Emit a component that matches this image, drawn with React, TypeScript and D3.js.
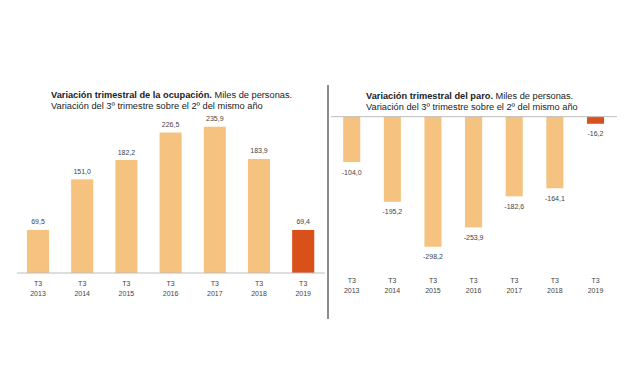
import * as d3 from 'd3';
import React, { useRef, useEffect } from 'react';

const years = ['2013', '2014', '2015', '2016', '2017', '2018', '2019'];
const ocupacion = [69.5, 151.0, 182.2, 226.5, 235.9, 183.9, 69.4];
const paro = [-104.0, -195.2, -298.2, -253.9, -182.6, -164.1, -16.2];

const LIGHT = '#f5c27f';
const DARK = '#d9501a';
const font = 'Liberation Sans, Arial, sans-serif';

// spanish decimal comma, plain hyphen for negatives
const fmt = (v: number) => d3.format('.1f')(v).replace('.', ',').replace('\u2212', '-');

function Chart() {
  const ref = useRef<SVGSVGElement>(null);

  useEffect(() => {
    const svg = d3.select(ref.current);
    svg.selectAll('*').remove();

    svg.append('rect').attr('width', 640).attr('height', 384).attr('fill', '#fff');

    // ---- left: ocupación
    const xL = d3.scaleBand<string>()
      .domain(years)
      .range([15.9, 325.3])
      .paddingInner(0.5)
      .paddingOuter(0.25);
    const yL = d3.scaleLinear().domain([0, 235.9]).range([273, 126.7]);

    const gL = svg.append('g');
    gL.selectAll('rect.bar')
      .data(ocupacion)
      .enter()
      .append('rect')
      .attr('class', 'bar')
      .attr('x', (d, i) => xL(years[i])!)
      .attr('y', d => yL(d))
      .attr('width', xL.bandwidth())
      .attr('height', d => yL(0) - yL(d))
      .attr('fill', (d, i) => (i === years.length - 1 ? DARK : LIGHT));

    gL.append('line')
      .attr('x1', 17).attr('x2', 325)
      .attr('y1', yL(0)).attr('y2', yL(0))
      .attr('stroke', '#bdbdbd').attr('stroke-width', 1);

    gL.selectAll('text.val')
      .data(ocupacion)
      .enter()
      .append('text')
      .attr('class', 'val')
      .attr('x', (d, i) => xL(years[i])! + xL.bandwidth() / 2)
      .attr('y', d => yL(d) - 5.5)
      .attr('text-anchor', 'middle')
      .style('font-family', font)
      .style('font-size', '7px')
      .attr('fill', '#444')
      .text(d => fmt(d));

    const tickL = gL.selectAll('g.tick').data(years).enter().append('g')
      .attr('transform', d => `translate(${xL(d)! + xL.bandwidth() / 2},0)`);
    tickL.append('text').attr('y', 285.5).attr('text-anchor', 'middle')
      .style('font-family', font).style('font-size', '7px').attr('fill', '#444').text('T3');
    tickL.append('text').attr('y', 295.5).attr('text-anchor', 'middle')
      .style('font-family', font).style('font-size', '7px').attr('fill', '#444').text(d => d);

    const tL = gL.append('text').style('font-family', font).style('font-size', '9.25px').attr('fill', '#222');
    tL.append('tspan').attr('x', 51).attr('y', 98).style('font-weight', 'bold').text('Variación trimestral de la ocupación.');
    tL.append('tspan').text(' Miles de personas.');
    tL.append('tspan').attr('x', 51).attr('y', 108.5).text('Variación del 3º trimestre sobre el 2º del mismo año');

    // separator
    svg.append('line')
      .attr('x1', 328).attr('x2', 328)
      .attr('y1', 85).attr('y2', 319)
      .attr('stroke', '#8a8a8a').attr('stroke-width', 2);

    // ---- right: paro
    const xR = d3.scaleBand<string>()
      .domain(years)
      .range([331.4, 615.8])
      .paddingInner(0.58)
      .paddingOuter(0.29);
    const yR = d3.scaleLinear().domain([-298.2, 0]).range([246.7, 116.7]);

    const gR = svg.append('g');
    gR.selectAll('rect.bar')
      .data(paro)
      .enter()
      .append('rect')
      .attr('class', 'bar')
      .attr('x', (d, i) => xR(years[i])!)
      .attr('y', yR(0))
      .attr('width', xR.bandwidth())
      .attr('height', d => yR(d) - yR(0))
      .attr('fill', (d, i) => (i === years.length - 1 ? DARK : LIGHT));

    gR.append('line')
      .attr('x1', 331).attr('x2', 617)
      .attr('y1', yR(0)).attr('y2', yR(0))
      .attr('stroke', '#bdbdbd').attr('stroke-width', 1);

    gR.selectAll('text.val')
      .data(paro)
      .enter()
      .append('text')
      .attr('class', 'val')
      .attr('x', (d, i) => xR(years[i])! + xR.bandwidth() / 2)
      .attr('y', d => yR(d) + 12.5)
      .attr('text-anchor', 'middle')
      .style('font-family', font)
      .style('font-size', '7px')
      .attr('fill', '#444')
      .text(d => fmt(d));

    const tickR = gR.selectAll('g.tick').data(years).enter().append('g')
      .attr('transform', d => `translate(${xR(d)! + xR.bandwidth() / 2},0)`);
    tickR.append('text').attr('y', 283).attr('text-anchor', 'middle')
      .style('font-family', font).style('font-size', '7px').attr('fill', '#444').text('T3');
    tickR.append('text').attr('y', 293).attr('text-anchor', 'middle')
      .style('font-family', font).style('font-size', '7px').attr('fill', '#444').text(d => d);

    const tR = gR.append('text').style('font-family', font).style('font-size', '9.25px').attr('fill', '#222');
    tR.append('tspan').attr('x', 366).attr('y', 99).style('font-weight', 'bold').text('Variación trimestral del paro.');
    tR.append('tspan').text(' Miles de personas.');
    tR.append('tspan').attr('x', 366).attr('y', 110).text('Variación del 3º trimestre sobre el 2º del mismo año');
  });

  return <svg ref={ref} width={640} height={384} style={{ position: 'absolute', left: 0, top: 0 }} />;
}

export default function App() {
  return <Chart />;
}
